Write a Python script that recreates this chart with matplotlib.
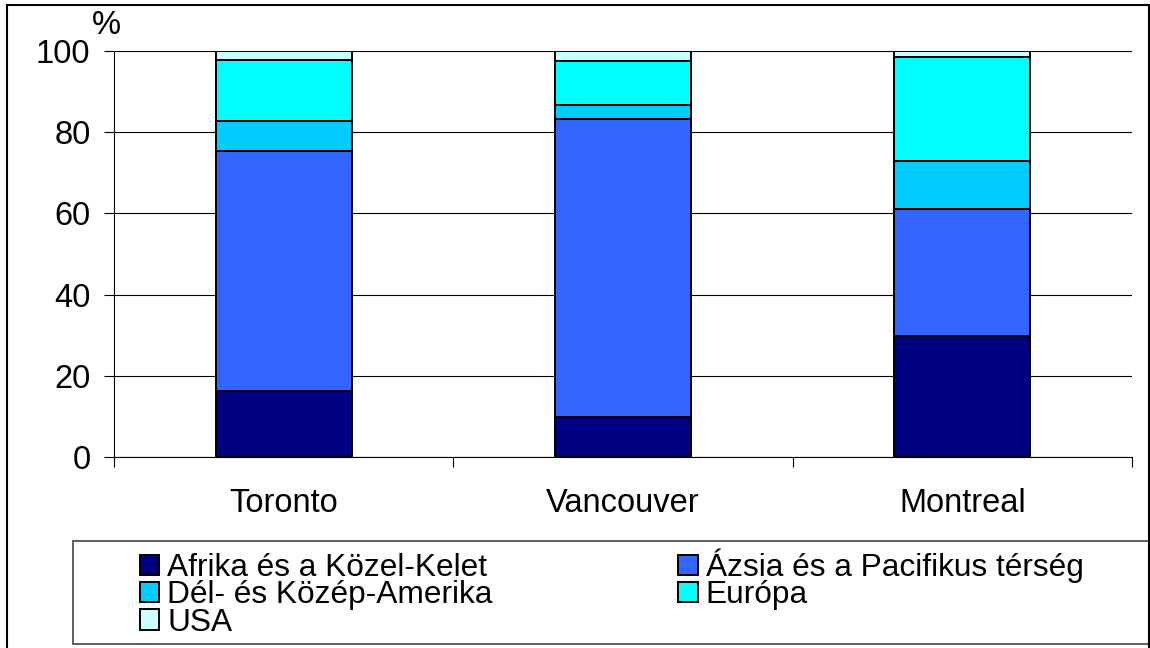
import matplotlib
matplotlib.use("Agg")
import matplotlib.pyplot as plt
from matplotlib.patches import Rectangle, Patch
import numpy as np

plt.rcParams["font.family"] = ["Liberation Sans", "DejaVu Sans"]

cities = ["Toronto", "Vancouver", "Montreal"]
regions = [
    "Afrika és a Közel-Kelet",
    "Ázsia és a Pacifikus térség",
    "Dél- és Közép-Amerika",
    "Európa",
    "USA",
]
# share of immigrants by origin region, %
afrika = [16.2, 9.9, 29.7]
azsia = [59.1, 73.3, 31.3]
del_amerika = [7.4, 3.4, 11.9]
europa = [15.2, 10.9, 25.5]
usa = [2.1, 2.5, 1.6]
colors = ["#000080", "#3366FF", "#00CCFF", "#00FFFF", "#CCFFFF"]

FS = 23.5
LFS = 22.8
W, H = 1150, 648
fig = plt.figure(figsize=(W / 100, H / 100), dpi=100)
ax = fig.add_axes([114 / W, 1 - 457 / H, (1132 - 114) / W, (457 - 51) / H])

x = np.arange(len(cities))
bottom = np.zeros(len(cities))
for vals, col in zip([afrika, azsia, del_amerika, europa, usa], colors):
    ax.bar(x, vals, width=0.40, bottom=bottom, color=col,
           edgecolor="black", linewidth=1.4, zorder=3)
    bottom += np.array(vals)

ax.set_xlim(-0.5, 2.5)
ax.set_ylim(0, 100)
ax.set_yticks(range(0, 101, 20))
ax.yaxis.grid(True, color="black", linewidth=0.8, zorder=0)
ax.set_axisbelow(True)

ax.set_xticks([-0.5, 0.5, 1.5, 2.5])
ax.set_xticklabels([])
ax.set_xticks(x, minor=True)
ax.set_xticklabels(cities, minor=True)
ax.tick_params(axis="x", which="major", length=7, width=0.8, direction="out")
ax.tick_params(axis="x", which="minor", length=0, pad=22, labelsize=FS)
ax.tick_params(axis="y", length=7, width=0.8, pad=10, labelsize=FS)

for s in ["top", "right"]:
    ax.spines[s].set_visible(False)
for s in ["left", "bottom"]:
    ax.spines[s].set_linewidth(0.8)

fig.text(106 / W, 1 - 25 / H, "%", ha="center", va="center", fontsize=FS)

# legend: Excel-like order, row by row
handles = [Patch(facecolor=c, edgecolor="black", linewidth=1.4) for c in colors]
order = [0, 2, 4, 1, 3]
fig.legend([handles[i] for i in order], [regions[i] for i in order],
           loc="upper left", bbox_to_anchor=(124 / W, 1 - 533 / H),
           ncol=2, frameon=False, fontsize=LFS, borderpad=0,
           handlelength=0.62, handleheight=0.6, handletextpad=0.25,
           labelspacing=-0.09, columnspacing=5.85)

# legend frame and outer chart border
fig.add_artist(Rectangle((73 / W, 1 - 644 / H), (1149 - 73) / W, (644 - 541) / H,
                         transform=fig.transFigure, fill=False,
                         edgecolor="#444444", linewidth=1.2))
fig.add_artist(Rectangle((7 / W, -0.05), (1149 - 7) / W, 1.05 - 5 / H,
                         transform=fig.transFigure, fill=False,
                         edgecolor="black", linewidth=1.5))

fig.savefig("out.png", dpi=100)
